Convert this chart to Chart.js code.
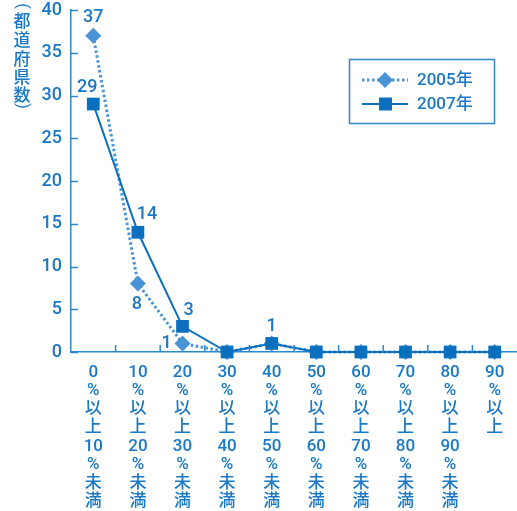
<!DOCTYPE html>
<html>
<head>
<meta charset="utf-8">
<script src="https://cdn.jsdelivr.net/npm/chart.js@4/dist/chart.umd.min.js"></script>
<style>
  html, body { margin: 0; padding: 0; background: #ffffff; }
  #wrap { width: 517px; height: 511px; }
</style>
</head>
<body>
<div id="wrap"><canvas id="c" width="517" height="511"></canvas></div>
<script>
// 都道府県数の分布（比率区分別）
const categories = [
  ['0', '%', '以', '上', '10', '%', '未', '満'],
  ['10', '%', '以', '上', '20', '%', '未', '満'],
  ['20', '%', '以', '上', '30', '%', '未', '満'],
  ['30', '%', '以', '上', '40', '%', '未', '満'],
  ['40', '%', '以', '上', '50', '%', '未', '満'],
  ['50', '%', '以', '上', '60', '%', '未', '満'],
  ['60', '%', '以', '上', '70', '%', '未', '満'],
  ['70', '%', '以', '上', '80', '%', '未', '満'],
  ['80', '%', '以', '上', '90', '%', '未', '満'],
  ['90', '%', '以', '上']
];
const values2005 = [37, 8, 1, 0, 1, 0, 0, 0, 0, 0];
const values2007 = [29, 14, 3, 0, 1, 0, 0, 0, 0, 0];
const seriesNames = ['2005年', '2007年'];
const yTicks = [0, 5, 10, 15, 20, 25, 30, 35, 40];
const yTitle = ['(', '都', '道', '府', '県', '数', ')'];

// which points carry a value label, and where it sits relative to the marker
const labels2005 = { 0: [0, -18], 1: [-1, 21], 2: [-16, 0] };
const labels2007 = { 0: [-6, -17], 1: [9, -18], 2: [6, -16], 4: [0, -17] };

const AXIS = '#2a88cf';
const TEXT = '#1a78c4';
const C2005 = '#4a94d6';
const C2007 = '#0a70bd';
const FONT = 'Roboto, "Liberation Sans", Arial, "Noto Sans CJK JP", sans-serif';

const decorations = {
  id: 'decorations',
  afterDatasetsDraw(chart) {
    const ctx = chart.ctx;
    const x = chart.scales.x, y = chart.scales.y;
    const area = chart.chartArea;
    ctx.save();
    // inward tick marks
    ctx.strokeStyle = AXIS;
    ctx.lineWidth = 1.5;
    ctx.beginPath();
    yTicks.forEach(v => {
      const py = Math.round(y.getPixelForValue(v)) + 0.5;
      ctx.moveTo(area.left, py);
      ctx.lineTo(area.left + 7, py);
    });
    for (let i = 0; i < categories.length - 1; i++) {
      const px = (x.getPixelForValue(i) + x.getPixelForValue(i + 1)) / 2;
      ctx.moveTo(px, area.bottom);
      ctx.lineTo(px, area.bottom - 7);
    }
    ctx.stroke();

    // value labels
    ctx.fillStyle = TEXT;
    ctx.font = '500 18px ' + FONT;
    ctx.textAlign = 'center';
    ctx.textBaseline = 'middle';
    const put = (data, spec, dsIndex) => {
      const meta = chart.getDatasetMeta(dsIndex);
      Object.keys(spec).forEach(k => {
        const i = +k;
        const pt = meta.data[i];
        ctx.fillText(String(data[i]), pt.x + spec[k][0], pt.y + spec[k][1]);
      });
    };
    put(values2005, labels2005, 0);
    put(values2007, labels2007, 1);

    // y-axis title, stacked vertically; the brackets are turned to run down the column
    const titleY = [6, 21, 40, 58.5, 77, 95, 106];
    yTitle.forEach((ch, i) => {
      if (i === 0 || i === yTitle.length - 1) {
        ctx.save();
        ctx.font = '16px Roboto, sans-serif';
        ctx.translate(22, titleY[i]);
        ctx.rotate(Math.PI / 2);
        ctx.fillText(ch, 0, 0);
        ctx.restore();
      } else {
        ctx.font = '500 17px "Noto Sans CJK JP", sans-serif';
        ctx.fillText(ch, 22, titleY[i]);
      }
    });

    // legend box
    const bx = 349, by = 59, bw = 145, bh = 64;
    ctx.strokeStyle = AXIS;
    ctx.lineWidth = 1.5;
    ctx.strokeRect(bx + 0.5, by + 0.5, bw, bh);
    const rows = [
      { y: 80, color: C2005, dash: [2.5, 2.5], width: 3, shape: 'diamond', name: seriesNames[0] },
      { y: 104, color: C2007, dash: [], width: 2, shape: 'square', name: seriesNames[1] }
    ];
    rows.forEach(r => {
      ctx.strokeStyle = r.color;
      ctx.lineWidth = r.width;
      ctx.setLineDash(r.dash);
      ctx.beginPath();
      ctx.moveTo(362, r.y);
      ctx.lineTo(408, r.y);
      ctx.stroke();
      ctx.setLineDash([]);
      ctx.fillStyle = r.color;
      ctx.beginPath();
      if (r.shape === 'diamond') {
        ctx.moveTo(385, r.y - 8); ctx.lineTo(393, r.y); ctx.lineTo(385, r.y + 8); ctx.lineTo(377, r.y);
        ctx.closePath();
      } else {
        ctx.rect(379, r.y - 6.5, 13, 13);
      }
      ctx.fill();
      ctx.fillStyle = TEXT;
      ctx.font = '500 17px ' + FONT;
      ctx.textAlign = 'left';
      ctx.fillText(r.name, 417, r.y + 1);
    });
    ctx.restore();
  }
};

new Chart(document.getElementById('c'), {
  type: 'line',
  data: {
    labels: categories,
    datasets: [
      {
        label: seriesNames[0],
        data: values2005,
        borderColor: C2005,
        backgroundColor: C2005,
        borderWidth: 3,
        borderDash: [2.5, 2.5],
        pointStyle: 'rectRot',
        pointRadius: 8,
        pointBorderWidth: 0,
        tension: 0,
        clip: false,
        order: 1
      },
      {
        label: seriesNames[1],
        data: values2007,
        borderColor: C2007,
        backgroundColor: C2007,
        borderWidth: 2,
        pointStyle: 'rect',
        pointRadius: 9,
        pointBorderWidth: 0,
        tension: 0,
        clip: false,
        order: 0
      }
    ]
  },
  options: {
    responsive: false,
    animation: false,
    devicePixelRatio: 1,
    layout: { autoPadding: false, padding: { top: 10, right: 0, left: 0, bottom: 0 } },
    plugins: { legend: { display: false }, tooltip: { enabled: false } },
    scales: {
      x: {
        offset: true,
        grid: { display: false, drawTicks: false },
        border: { display: true, color: AXIS, width: 1.5 },
        ticks: {
          color: TEXT,
          padding: 11,
          maxRotation: 0,
          autoSkip: false,
          font: { family: FONT, size: 17, weight: '500', lineHeight: 1.09 }
        },
        afterFit(s) { s.height = 159; s.paddingLeft = 0; s.paddingRight = 0; }
      },
      y: {
        min: 0,
        max: 40,
        grid: { display: false, drawTicks: false },
        border: { display: true, color: AXIS, width: 1.5 },
        ticks: {
          stepSize: 5,
          color: TEXT,
          padding: 9,
          font: { family: FONT, size: 18, weight: '500' }
        },
        afterFit(s) { s.width = 71; s.paddingTop = 0; s.paddingBottom = 0; }
      }
    }
  },
  plugins: [decorations]
});
</script>
</body>
</html>
